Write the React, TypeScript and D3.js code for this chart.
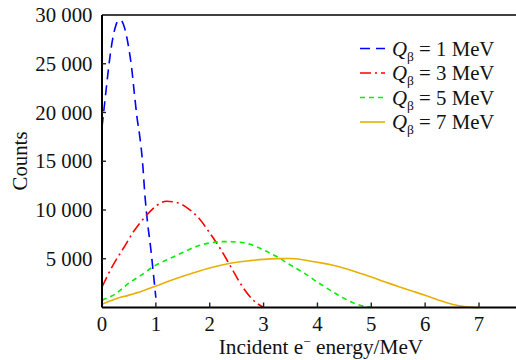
import React from "react";
import * as d3 from "d3";

// Energy grids (MeV) and simulated counts for each endpoint energy
const energy1 = [0, 0.05, 0.1, 0.15, 0.2, 0.25, 0.3, 0.35, 0.4, 0.45, 0.5, 0.55, 0.6, 0.65, 0.7, 0.75, 0.8, 0.85, 0.9, 0.95, 1.0];
const counts1 = [18500, 21000, 23500, 25800, 27600, 28800, 29400, 29450, 29000, 28000, 26500, 24600, 22000, 19500, 17600, 15100, 11300, 8500, 6300, 3700, 1000];

const energy3 = [0, 0.2, 0.4, 0.6, 0.8, 1.0, 1.2, 1.4, 1.6, 1.8, 2.0, 2.2, 2.4, 2.6, 2.8, 3.0];
const counts3 = [2100, 4300, 6100, 7900, 9300, 10400, 10900, 10750, 10150, 9150, 7650, 6000, 4100, 2200, 800, 0];

const energy5 = [0, 0.25, 0.5, 0.75, 1.0, 1.25, 1.5, 1.75, 2.0, 2.25, 2.5, 2.75, 3.0, 3.25, 3.5, 3.75, 4.0, 4.25, 4.5, 4.75, 5.0];
const counts5 = [750, 1400, 2500, 3400, 4350, 5000, 5650, 6250, 6620, 6760, 6720, 6480, 5900, 5200, 4350, 3530, 2600, 1730, 920, 300, 0];

const energy7 = [0, 0.25, 0.5, 0.75, 1.0, 1.25, 1.5, 1.75, 2.0, 2.25, 2.5, 2.75, 3.0, 3.25, 3.5, 3.75, 4.0, 4.25, 4.5, 4.75, 5.0, 5.25, 5.5, 5.75, 6.0, 6.25, 6.5, 6.75, 7.0];
const counts7 = [330, 880, 1270, 1700, 2200, 2720, 3210, 3650, 4050, 4380, 4640, 4810, 4940, 5010, 5030, 4880, 4640, 4380, 4020, 3580, 3130, 2640, 2150, 1700, 1250, 750, 330, 80, 0];

const qValues = ["1", "3", "5", "7"];
const xTicks = [0, 1, 2, 3, 4, 5, 6, 7];
const yTicks = [5000, 10000, 15000, 20000, 25000, 30000];
const yTickLabels = ["5 000", "10 000", "15 000", "20 000", "25 000", "30 000"];

const series = [
  { q: qValues[0], xs: energy1, ys: counts1, color: "#0000ff", dash: "10,6" },
  { q: qValues[1], xs: energy3, ys: counts3, color: "#ff0000", dash: "11,4,2,4" },
  { q: qValues[2], xs: energy5, ys: counts5, color: "#00f000", dash: "5,4" },
  { q: qValues[3], xs: energy7, ys: counts7, color: "#e8b000", dash: "" },
];

const W = 516;
const H = 360;
const left = 102;
const right = 516;
const top = 15;
const bottom = 307.5;
const font = "Liberation Serif";
const fs = 20.8;

export default function App() {
  const x = d3.scaleLinear().domain([0, 7]).range([left, 479]);
  const y = d3.scaleLinear().domain([0, 30000]).range([bottom, top]);

  const line = d3
    .line<[number, number]>()
    .x((d) => x(d[0]))
    .y((d) => y(d[1]))
    .curve(d3.curveMonotoneX);

  return (
    <svg
      width={W}
      height={H}
      style={{ position: "absolute", left: 0, top: 0, display: "block", background: "#fff", fontFamily: font }}
    >
      {/* curves */}
      {series.map((s) => (
        <path
          key={s.q}
          d={line(s.xs.map((v, i) => [v, s.ys[i]] as [number, number])) || ""}
          fill="none"
          stroke={s.color}
          strokeWidth={1.6}
          strokeDasharray={s.dash || undefined}
        />
      ))}

      {/* frame */}
      <line x1={left} x2={right} y1={top} y2={top} stroke="#000" strokeWidth={1.6} />
      <line x1={left} x2={right} y1={bottom} y2={bottom} stroke="#000" strokeWidth={2} />
      <line x1={left} x2={left} y1={top} y2={bottom} stroke="#000" strokeWidth={2} />

      {/* y ticks and labels */}
      {yTicks.map((t, i) => (
        <g key={t}>
          {t < 30000 && (
            <line x1={left} x2={left + 4} y1={y(t)} y2={y(t)} stroke="#222" strokeWidth={1.4} />
          )}
          <text x={92.5} y={y(t) + 7} textAnchor="end" fontSize={fs} fill="#111">
            {yTickLabels[i]}
          </text>
        </g>
      ))}

      {/* x ticks and labels */}
      {xTicks.map((t) => (
        <g key={t}>
          {t > 0 && (
            <line x1={x(t)} x2={x(t)} y1={bottom} y2={bottom - 5} stroke="#222" strokeWidth={1.4} />
          )}
          <text x={x(t)} y={330.5} textAnchor="middle" fontSize={fs} fill="#111">
            {t}
          </text>
        </g>
      ))}

      {/* axis titles */}
      <text x={321} y={353.5} textAnchor="middle" fontSize={21.3} fill="#111">
        Incident e<tspan dy={-8} fontSize={13}>−</tspan>
        <tspan dy={8}> energy/MeV</tspan>
      </text>
      <text
        transform={`translate(27, 161) rotate(-90)`}
        textAnchor="middle"
        fontSize={fs}
        fill="#111"
      >
        Counts
      </text>

      {/* legend */}
      {series.map((s, i) => {
        const ly = 48.5 + i * 24.5;
        return (
          <g key={"lg" + s.q}>
            <line
              x1={360}
              x2={385}
              y1={ly}
              y2={ly}
              stroke={s.color}
              strokeWidth={1.6}
              strokeDasharray={s.dash || undefined}
            />
            <text x={392} y={ly + 7} fontSize={fs} fill="#111">
              <tspan fontStyle="italic">Q</tspan>
              <tspan dy={5} fontSize={13.5}>β</tspan>
              <tspan dy={-5}> = {s.q} MeV</tspan>
            </text>
          </g>
        );
      })}
    </svg>
  );
}
